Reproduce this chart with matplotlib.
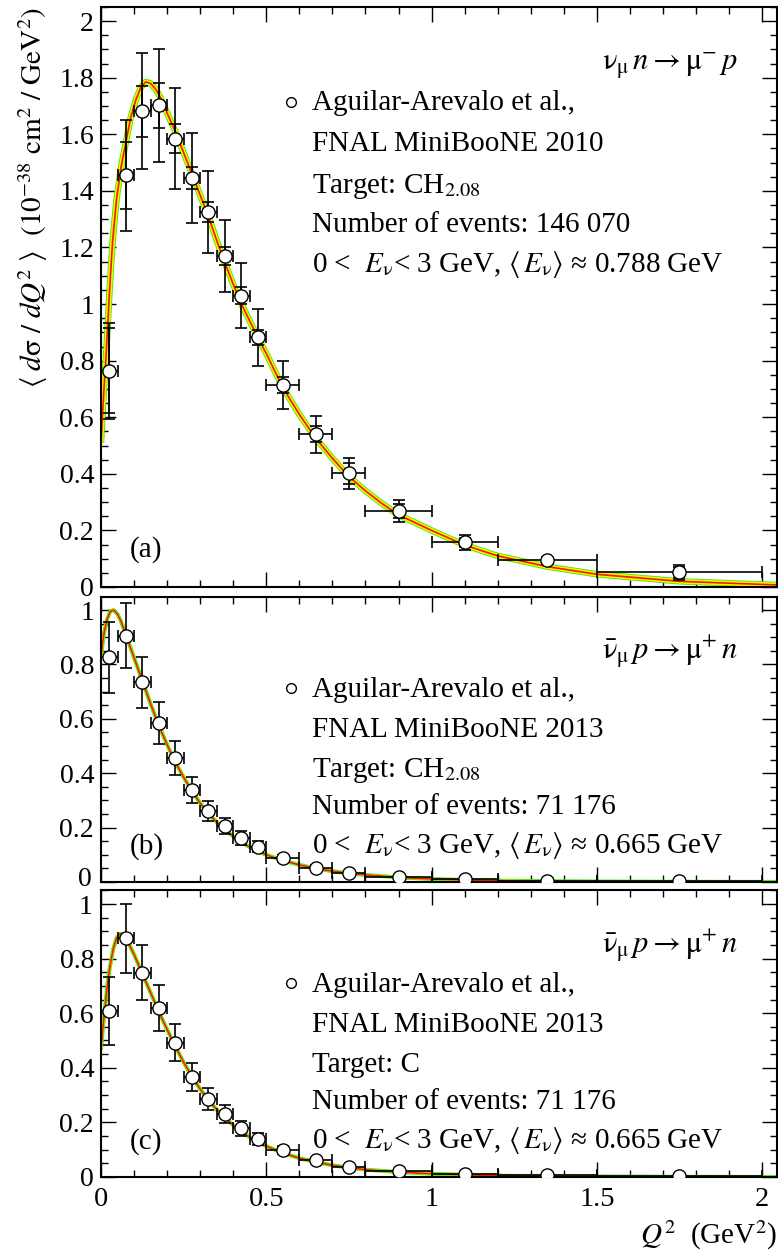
import matplotlib
matplotlib.use("Agg")
import matplotlib.pyplot as plt
from matplotlib.ticker import MultipleLocator, FuncFormatter

plt.rcParams['font.family'] = ['Liberation Serif', 'DejaVu Serif']
plt.rcParams['mathtext.fontset'] = 'stix'

# ---------------- data ----------------
q2 = [0.025, 0.075, 0.125, 0.175, 0.225, 0.275, 0.325, 0.375, 0.425, 0.475,
      0.55, 0.65, 0.75, 0.90, 1.10, 1.35, 1.75]
q2_halfwidth = [0.025, 0.025, 0.025, 0.025, 0.025, 0.025, 0.025, 0.025, 0.025, 0.025,
                0.05, 0.05, 0.05, 0.10, 0.10, 0.15, 0.25]

# panel (a): nu_mu n -> mu- p, MiniBooNE 2010
a_val = [0.764, 1.455, 1.682, 1.702, 1.585, 1.446, 1.326, 1.170, 1.030, 0.882,
         0.714, 0.540, 0.402, 0.269, 0.158, 0.095, 0.052]
a_err_tot = [0.170, 0.197, 0.206, 0.200, 0.178, 0.159, 0.144, 0.127, 0.115, 0.100,
             0.084, 0.065, 0.055, 0.040, 0.027, 0.012, 0.027]
a_err_shape = [0.150, 0.119, 0.090, 0.080, 0.052, 0.040, 0.036, 0.032, 0.030, 0.028,
               0.030, 0.029, 0.037, 0.025, 0.015, 0.008, 0.020]

# panel (b): anti-nu_mu p -> mu+ n, CH2.08
b_val = [0.826, 0.906, 0.734, 0.586, 0.456, 0.338, 0.261, 0.207, 0.161, 0.129,
         0.087, 0.053, 0.034, 0.017, 0.011, 0.005, 0.005]
b_err = [0.130, 0.120, 0.095, 0.077, 0.062, 0.047, 0.037, 0.030, 0.025, 0.020,
         0.013, 0.009, 0.006, 0.004, 0.003, 0.002, 0.001]

# panel (c): anti-nu_mu p -> mu+ n, C
c_val = [0.608, 0.874, 0.748, 0.618, 0.492, 0.367, 0.285, 0.231, 0.178, 0.139,
         0.099, 0.061, 0.037, 0.021, 0.012, 0.006, 0.005]
c_err = [0.125, 0.127, 0.100, 0.084, 0.069, 0.052, 0.040, 0.033, 0.027, 0.022,
         0.015, 0.010, 0.007, 0.005, 0.003, 0.002, 0.001]

# theory curves
a_curve_x = [0, 0.005, 0.01, 0.015, 0.02, 0.027, 0.035, 0.047, 0.06, 0.075, 0.09,
             0.105, 0.12, 0.135, 0.15, 0.165, 0.18, 0.2, 0.225, 0.25, 0.275, 0.3,
             0.325, 0.35, 0.375, 0.4, 0.425, 0.45, 0.475, 0.5, 0.55, 0.6, 0.65,
             0.7, 0.75, 0.8, 0.85, 0.9, 1.0, 1.1, 1.2, 1.35, 1.5, 1.75, 2.05]
a_curve_y = [0.51, 0.62, 0.72, 0.81, 0.92, 1.07, 1.22, 1.37, 1.48, 1.57, 1.66,
             1.72, 1.765, 1.785, 1.78, 1.76, 1.73, 1.675, 1.61, 1.535, 1.46, 1.385,
             1.31, 1.225, 1.145, 1.07, 1.0, 0.94, 0.88, 0.825, 0.705, 0.61, 0.525,
             0.455, 0.39, 0.34, 0.295, 0.255, 0.20, 0.148, 0.11, 0.072, 0.045, 0.02, 0.007]

b_curve_x = [0, 0.005, 0.01, 0.018, 0.028, 0.038, 0.05, 0.06, 0.075, 0.1, 0.125,
             0.15, 0.175, 0.2, 0.225, 0.25, 0.275, 0.3, 0.325, 0.35, 0.375, 0.4,
             0.425, 0.45, 0.475, 0.5, 0.55, 0.6, 0.65, 0.7, 0.75, 0.8, 0.9, 1.0,
             1.1, 1.2, 1.35, 1.5, 1.75, 2.05]
b_curve_y = [0.828, 0.88, 0.92, 0.965, 0.995, 1.0, 0.985, 0.96, 0.91, 0.825, 0.74,
             0.655, 0.575, 0.505, 0.44, 0.385, 0.335, 0.29, 0.252, 0.22, 0.192, 0.168,
             0.147, 0.128, 0.113, 0.10, 0.079, 0.063, 0.05, 0.04, 0.032, 0.026, 0.017,
             0.011, 0.0075, 0.005, 0.003, 0.002, 0.001, 0.0004]

c_curve_x = [0, 0.006, 0.012, 0.02, 0.027, 0.037, 0.047, 0.057, 0.065, 0.078, 0.1,
             0.125, 0.15, 0.175, 0.2, 0.225, 0.25, 0.275, 0.3, 0.325, 0.35, 0.375,
             0.4, 0.425, 0.45, 0.475, 0.5, 0.55, 0.6, 0.65, 0.7, 0.75, 0.8, 0.9,
             1.0, 1.1, 1.2, 1.35, 1.5, 1.75, 2.05]
c_curve_y = [0.465, 0.55, 0.62, 0.71, 0.77, 0.835, 0.875, 0.89, 0.89, 0.87, 0.815,
             0.745, 0.675, 0.605, 0.54, 0.478, 0.42, 0.368, 0.322, 0.282, 0.247, 0.217,
             0.19, 0.166, 0.146, 0.129, 0.113, 0.088, 0.069, 0.055, 0.043, 0.034, 0.027,
             0.018, 0.012, 0.008, 0.005, 0.003, 0.002, 0.001, 0.0004]

x_ticks = [0, 0.5, 1, 1.5, 2]

# ---------------- figure ----------------
W, H = 778, 1251
fig = plt.figure(figsize=(W / 100, H / 100), dpi=100)
TICK_FS = 20


def fx(px):
    return px / W


def fy(py):
    return 1 - py / H


def make_axes(top, bottom, ymax, skip=()):
    ax = fig.add_axes([fx(101), fy(bottom), fx(777) - fx(101), fy(top) - fy(bottom)])
    ax.set_xlim(0, 2.045)
    ax.set_ylim(0, ymax)
    for s in ax.spines.values():
        s.set_linewidth(1.5)
    ax.set_xticks(x_ticks)
    ax.xaxis.set_minor_locator(MultipleLocator(0.1))
    ax.yaxis.set_major_locator(MultipleLocator(0.2))
    ax.yaxis.set_minor_locator(MultipleLocator(0.05))
    ax.tick_params(which='both', direction='in', top=True, right=True, width=1.0)
    ax.tick_params(which='major', length=10.5)
    ax.tick_params(which='minor', length=5.2)
    ax.tick_params(axis='y', labelsize=TICK_FS, pad=5)
    ax.tick_params(axis='x', labelsize=20.5, pad=7)

    def yfmt(v, p):
        v = round(v, 3)
        if any(abs(v - s) < 1e-6 for s in skip):
            return ''
        return '%g' % v
    ax.yaxis.set_major_formatter(FuncFormatter(yfmt))
    ax.xaxis.set_major_formatter(FuncFormatter(lambda v, p: '%g' % round(v, 3)))
    return ax


def draw_curve(ax, cx, cy, wide):
    ax.plot(cx, cy, color='#33ee00', lw=wide, solid_capstyle='butt', zorder=2)
    ax.plot(cx, cy, color='#ffee00', lw=wide - 1.2, solid_capstyle='butt', zorder=2.1)
    ax.plot(cx, cy, color='#ee1c00', lw=1.2, zorder=2.2)


def draw_data(ax, vals, errs, inner=None):
    ax.errorbar(q2, vals, xerr=q2_halfwidth, yerr=errs, fmt='none', ecolor='black',
                elinewidth=1.2, capsize=4.5, capthick=1.2, zorder=3)
    if inner is not None:
        ax.errorbar(q2, vals, yerr=inner, fmt='none', ecolor='black',
                    elinewidth=1.2, capsize=4.5, capthick=1.2, zorder=3)
    ax.plot(q2, vals, 'o', ms=9.5, mfc='white', mec='black', mew=1.0, zorder=4,
            clip_on=True)


axa = make_axes(7, 587, 2.05)
axb = make_axes(597, 882, 1.048, skip=(0,))
axc = make_axes(890, 1177, 1.051, skip=(1,))

# the two crowded labels at the b/c junction, nudged apart a little
fig.text(fx(92), fy(879), '0', fontsize=TICK_FS, ha='right', va='center')
fig.text(fx(92), fy(907), '1', fontsize=TICK_FS, ha='right', va='center')

draw_curve(axa, a_curve_x, a_curve_y, 4.6)
draw_curve(axb, b_curve_x, b_curve_y, 2.8)
draw_curve(axc, c_curve_x, c_curve_y, 2.8)

draw_data(axa, a_val, a_err_tot, a_err_shape)
draw_data(axb, b_val, b_err)
draw_data(axc, c_val, c_err)

axa.tick_params(axis='x', labelbottom=False)
axb.tick_params(axis='x', labelbottom=False)

# ---------------- texts ----------------
TS = 21
reac_nu = r'$\mathrm{\nu}_{\mathrm{\mu}}\,n \rightarrow \mathrm{\mu}^{-}\,p$'
reac_anu = r'$\bar{\mathrm{\nu}}_{\mathrm{\mu}}\,p \rightarrow \mathrm{\mu}^{+}\,n$'

panels = [
    dict(reac=reac_nu, reac_y=70, mark_y=101.7,
         lines=['Aguilar-Arevalo et al.,', 'FNAL MiniBooNE 2010',
                r'Target: CH$_{2.08}$', 'Number of events: 146 070',
                r'0 <  $E_{\mathrm{\nu}}$< 3 GeV, $\langle\,E_{\mathrm{\nu}}\rangle$ ≈ 0.788 GeV'],
         ys=[110, 150.7, 192.7, 232.3, 271.7], tag='(a)', tag_y=557),
    dict(reac=reac_anu, reac_y=658.3, mark_y=688.3,
         lines=['Aguilar-Arevalo et al.,', 'FNAL MiniBooNE 2013',
                r'Target: CH$_{2.08}$', 'Number of events: 71 176',
                r'0 <  $E_{\mathrm{\nu}}$< 3 GeV, $\langle\,E_{\mathrm{\nu}}\rangle$ ≈ 0.665 GeV'],
         ys=[696.7, 736.7, 776.7, 814.3, 853.3], tag='(b)', tag_y=853.3),
    dict(reac=reac_anu, reac_y=953.3, mark_y=983.3,
         lines=['Aguilar-Arevalo et al.,', 'FNAL MiniBooNE 2013',
                'Target: C', 'Number of events: 71 176',
                r'0 <  $E_{\mathrm{\nu}}$< 3 GeV, $\langle\,E_{\mathrm{\nu}}\rangle$ ≈ 0.665 GeV'],
         ys=[991.7, 1031.7, 1071.7, 1109.3, 1148.3], tag='(c)', tag_y=1148.3),
]

for p in panels:
    fig.text(fx(738), fy(p['reac_y']), p['reac'], fontsize=TS + 1, ha='right', va='baseline')
    fig.lines.append(plt.Line2D([fx(290.7)], [fy(p['mark_y'])], marker='o', ms=7,
                                mfc='white', mec='black', mew=1.0,
                                transform=fig.transFigure, figure=fig))
    for txt, yy in zip(p['lines'], p['ys']):
        fig.text(fx(311.7), fy(yy), txt, fontsize=TS, ha='left', va='baseline')
    fig.text(fx(130), fy(p['tag_y']), p['tag'], fontsize=TS, ha='left', va='baseline')

fig.text(fx(33), fy(7),
         r'$\langle\;d\mathrm{\sigma}\ /\ dQ^{2}\;\rangle$  $(10^{-38}\ \mathrm{cm}^{2}\ /\ \mathrm{GeV}^{2})$',
         fontsize=21, rotation=90, ha='center', va='top')
fig.text(fx(777), fy(1244), r'$Q^{2}$  (GeV$^{2}$)', fontsize=21, ha='right', va='baseline')

fig.savefig('out.png', dpi=100)
